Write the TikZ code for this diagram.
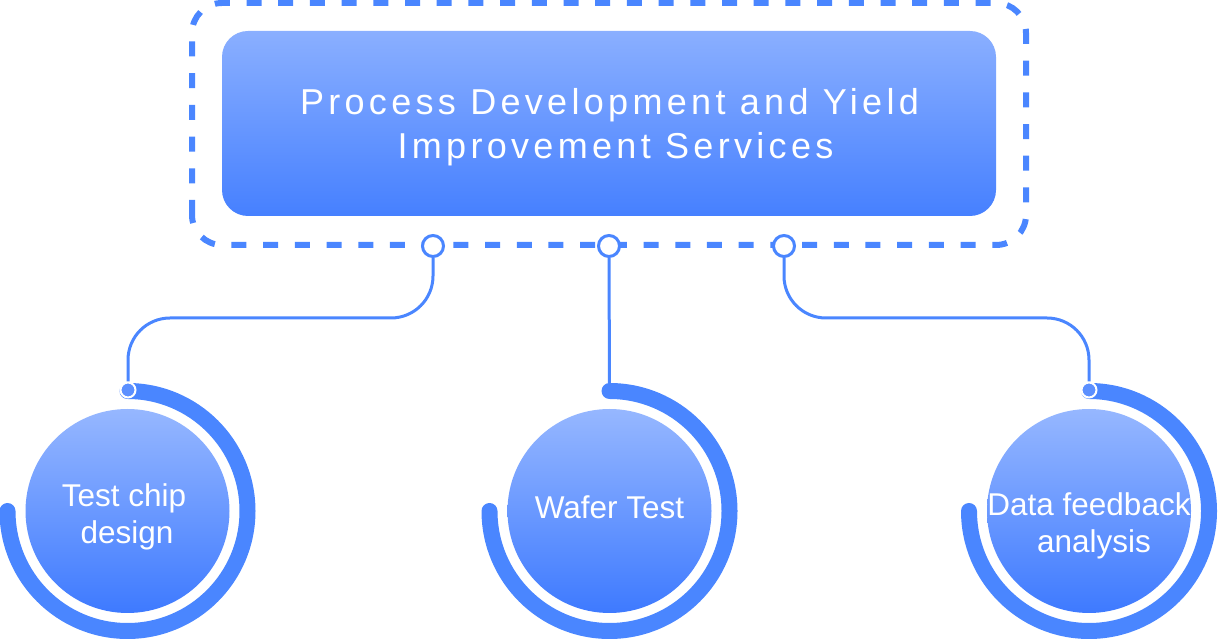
\documentclass[tikz,border=0pt]{standalone}
\usepackage{fontspec}
\setmainfont{Liberation Sans}
\newfontfamily\titlefont[LetterSpace=12]{Liberation Sans}
\definecolor{lineblue}{HTML}{4A86FF}
\definecolor{recttop}{HTML}{8AAFFF}
\definecolor{rectbot}{HTML}{4680FF}
\definecolor{circtop}{HTML}{96B7FF}
\definecolor{circbot}{HTML}{3E7AFF}
\definecolor{dotblue}{HTML}{5C90FF}
\tikzset{
  dashbox/.style={draw=lineblue, line width=6pt, dash pattern=on 15pt off 16.7pt, rounded corners=30pt},
  titlebox/.style={rectangle, rounded corners=26pt, top color=recttop, bottom color=rectbot, draw=none, inner sep=0pt},
  titletext/.style={text=white, font=\titlefont\fontsize{36}{44}\selectfont, inner sep=0pt, anchor=base},
  ring/.style={circle, draw=lineblue, fill=white, line width=3pt, minimum size=21pt, inner sep=0pt},
  conn/.style={draw=lineblue, line width=3pt, rounded corners=42pt},
  bigcirc/.style={circle, minimum size=204pt, inner sep=0pt, top color=circtop, bottom color=circbot, draw=none},
  arcband/.style={draw=lineblue, line width=16pt, line cap=round},
  smalldot/.style={circle, fill=dotblue, draw=white, line width=2pt, minimum size=15pt, inner sep=0pt},
  ctext/.style={text=white, font=\fontsize{31.5}{38}\selectfont, inner sep=0pt, anchor=base}
}
\begin{document}
\begin{tikzpicture}[x=1pt,y=1pt]
\useasboundingbox (0,0) rectangle (1218,639);
% outer dashed frame
\draw[dashbox] (192,394) rectangle (1026,636);
% title box
\node[titlebox, minimum width=774pt, minimum height=185pt] (tbox) at (609,515.5) {};
\node[titletext] (t1) at (609.5,524) {Process Development and Yield};
\node[titletext] (t2) at (615.5,480) {Improvement Services};
% rings on the frame
\node[ring] (r1) at (433,393) {};
\node[ring] (r2) at (609,393) {};
\node[ring] (r3) at (784,393) {};
% circles
\node[bigcirc] (c1) at (127.5,128) {};
\node[bigcirc] (c2) at (609.5,128) {};
\node[bigcirc] (c3) at (1089,128) {};
% arcs
\draw[arcband] (c1.center) ++(90:120) arc[start angle=90, end angle=-180, radius=120];
\draw[arcband] (c2.center) ++(90:120) arc[start angle=90, end angle=-180, radius=120];
\draw[arcband] (c3.center) ++(90:120) arc[start angle=90, end angle=-180, radius=120];
% dots at the top of the arcs
\node[smalldot] (d1) at (128,249) {};
\coordinate (d2) at (609.5,254);
\node[smalldot] (d3) at (1089,249) {};
% connectors
\coordinate (h) at (609,321);
\draw[conn] (r1.south) -- (r1.south |- h) -- (d1 |- h) -- (d1.north);
\draw[conn] (r2.south) -- (d2);
\draw[conn] (r3.south) -- (r3.south |- h) -- (d3 |- h) -- (d3.north);
% circle texts
\node[ctext] (l1a) at (124,132) {Test chip};
\node[ctext] (l1b) at (127,95) {design};
\node[ctext] (l2) at (609.5,120) {Wafer Test};
\node[ctext] (l3a) at (1089,123) {Data feedback};
\node[ctext] (l3b) at (1094,86) {analysis};
\end{tikzpicture}
\end{document}
